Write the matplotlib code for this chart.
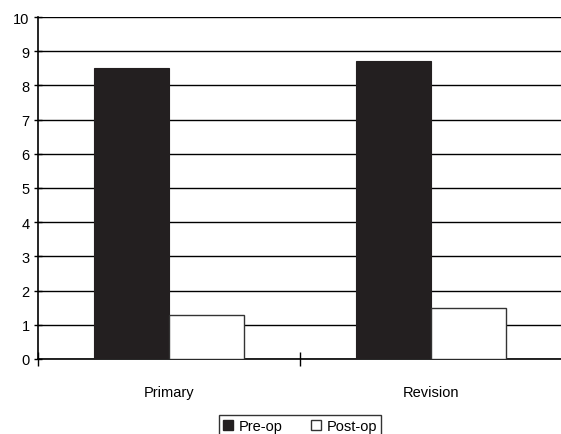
import matplotlib
matplotlib.use('Agg')
import matplotlib.pyplot as plt
from matplotlib.patches import Patch
import numpy as np

plt.rcParams['font.family'] = ['Liberation Sans', 'DejaVu Sans']

# Data
categories = ['Primary', 'Revision']
series_names = ['Pre-op', 'Post-op']
pre_op = [8.5, 8.7]
post_op = [1.3, 1.5]
y_ticks = list(range(0, 11))

fig = plt.figure(figsize=(5.61, 4.35), dpi=100)
ax = fig.add_axes([38 / 561, 75 / 435, 524 / 561, 342 / 435])

x = np.arange(len(categories))
width = 0.286

ax.bar(x - width / 2, pre_op, width, color='#231f20', edgecolor='#231f20',
       linewidth=0.8, zorder=3)
ax.bar(x + width / 2, post_op, width, color='white', edgecolor='#333333',
       linewidth=1.0, zorder=3)

ax.set_xlim(-0.5, 1.5)
ax.set_ylim(0, 10)
ax.set_yticks(y_ticks)
ax.yaxis.grid(True, color='black', linewidth=1.0, zorder=0)
ax.set_axisbelow(True)

# category boundaries as major ticks, labels on minor ticks
ax.set_xticks([-0.5, 0.5, 1.5])
ax.set_xticklabels([])
ax.set_xticks(x, minor=True)
ax.set_xticklabels(categories, minor=True)
ax.tick_params(axis='x', which='major', direction='inout', length=10, width=1)
ax.tick_params(axis='x', which='minor', length=0, pad=19, labelsize=10.5)
ax.tick_params(axis='y', direction='inout', length=6, width=1, labelsize=10.5, pad=3)

for side in ['top', 'right']:
    ax.spines[side].set_visible(False)
ax.spines['left'].set_linewidth(1.2)
ax.spines['bottom'].set_linewidth(1.2)

handles = [Patch(facecolor='#231f20', edgecolor='#231f20', label=series_names[0]),
           Patch(facecolor='white', edgecolor='#333333', label=series_names[1])]
leg = fig.legend(handles=handles, loc='upper center', ncol=2,
                 bbox_to_anchor=(300 / 561, 1 - 416 / 435), fontsize=10.5,
                 frameon=True, fancybox=False, edgecolor='black',
                 handlelength=0.7, handleheight=0.7, handletextpad=0.4,
                 columnspacing=1.9, borderpad=0.3, borderaxespad=0)
leg.get_frame().set_linewidth(1.0)

fig.savefig('out.png', dpi=100)
